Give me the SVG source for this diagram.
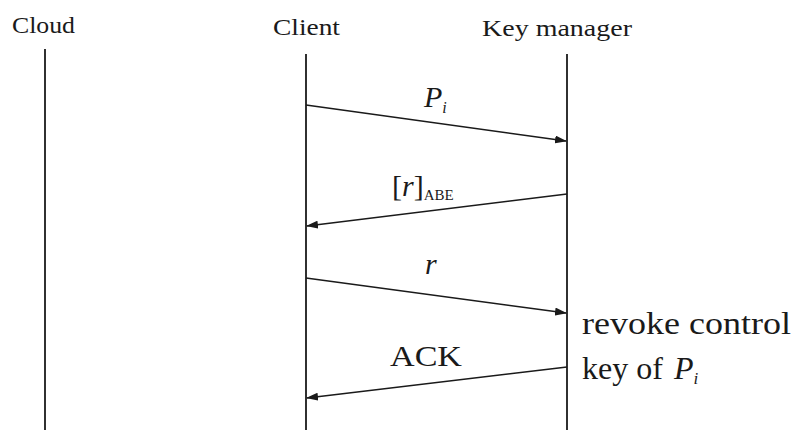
<svg xmlns="http://www.w3.org/2000/svg" width="791" height="430" viewBox="0 0 791 430">
<style>
text{font-family:"Liberation Serif","DejaVu Serif",serif;fill:#1a1a1a}
.hd{font-size:23px}
.lbl{font-size:30px}
.side{font-size:32px}
.it{font-style:italic}
.life{stroke:#1a1a1a;stroke-width:1.8;fill:none}
.msg{stroke:#1a1a1a;stroke-width:1.6;fill:none;marker-end:url(#ah)}
</style>
<defs>
<marker id="ah" viewBox="0 0 12 8" refX="11" refY="4" markerWidth="12" markerHeight="8" markerUnits="userSpaceOnUse" orient="auto">
<path d="M0,0 L12,4 L0,8 Z" fill="#1a1a1a"/>
</marker>
</defs>
<rect width="791" height="430" fill="#fff"/>
<g id="cloud">
<text class="hd" x="12" y="33" textLength="63" lengthAdjust="spacingAndGlyphs">Cloud</text>
<line class="life" x1="45" y1="49" x2="45" y2="430"/>
</g>
<g id="client">
<text class="hd" x="273" y="35" textLength="67" lengthAdjust="spacingAndGlyphs">Client</text>
<line class="life" x1="306" y1="54" x2="306" y2="430"/>
</g>
<g id="keymanager">
<text class="hd" x="482" y="36" textLength="150" lengthAdjust="spacingAndGlyphs">Key manager</text>
<line class="life" x1="567" y1="54" x2="567" y2="430"/>
</g>
<g id="connectors">
<line class="msg" x1="306" y1="105" x2="566" y2="141"/>
<line class="msg" x1="567" y1="194" x2="307" y2="226"/>
<line class="msg" x1="306" y1="278" x2="566" y2="313"/>
<line class="msg" x1="567" y1="367" x2="307" y2="398"/>
</g>
<g id="labels">
<text class="lbl it" x="424" y="107">P<tspan font-size="16" dy="6">i</tspan></text>
<text class="lbl" x="392" y="196">[<tspan class="it">r</tspan>]<tspan font-size="15" dy="4">ABE</tspan></text>
<text class="lbl it" x="425" y="274">r</text>
<text class="lbl" x="390" y="366" textLength="72" lengthAdjust="spacingAndGlyphs">ACK</text>
<text class="side" x="582" y="334" textLength="209" lengthAdjust="spacingAndGlyphs">revoke control</text>
<text class="side" x="582" y="379">key of<tspan class="it" x="674">P</tspan><tspan class="it" font-size="17" dy="5">i</tspan></text>
</g>
</svg>
